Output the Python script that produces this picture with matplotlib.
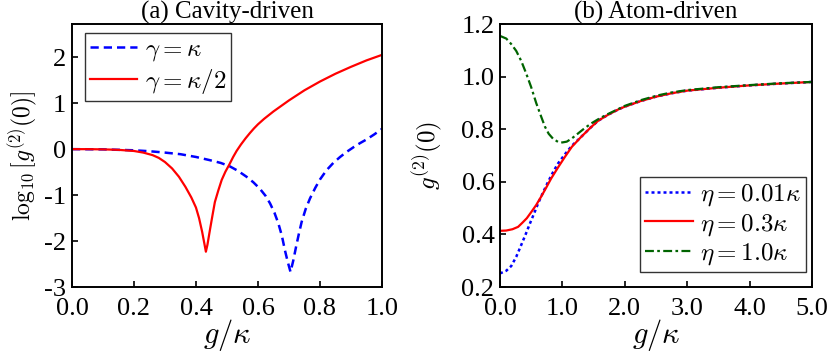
import matplotlib
matplotlib.use('Agg')
from matplotlib import pyplot as plt

plt.rcParams['font.family'] = ['Liberation Serif', 'DejaVu Serif']
plt.rcParams['mathtext.fontset'] = 'cm'
plt.rcParams['axes.unicode_minus'] = False

# (a) cavity-driven, values
g_a1 = [0.0, 0.1, 0.2, 0.25, 0.3, 0.35, 0.4, 0.445, 0.48, 0.508, 0.535, 0.563, 0.585,
        0.606, 0.625, 0.639, 0.653, 0.666, 0.677, 0.687, 0.696, 0.705, 0.714, 0.723,
        0.732, 0.741, 0.754, 0.768, 0.785, 0.8, 0.821, 0.843, 0.865, 0.886, 0.91,
        0.929, 0.95, 0.975, 1.0]
log_a1 = [0.0, -0.005, -0.025, -0.045, -0.075, -0.11, -0.17, -0.24, -0.3, -0.37, -0.47,
          -0.6, -0.72, -0.86, -1.02, -1.18, -1.38, -1.62, -1.88, -2.2, -2.45, -2.67, -2.42,
          -2.12, -1.84, -1.58, -1.3, -1.07, -0.84, -0.66, -0.46, -0.3, -0.17, -0.06, 0.05,
          0.13, 0.21, 0.32, 0.44]
g_a2 = [0.0, 0.05, 0.1, 0.15, 0.2, 0.23, 0.26, 0.28, 0.3, 0.323, 0.345, 0.366, 0.385,
        0.4, 0.41, 0.42, 0.427, 0.432, 0.437, 0.445, 0.453, 0.461, 0.472, 0.483, 0.495,
        0.508, 0.52, 0.531, 0.545, 0.56, 0.574, 0.587, 0.6, 0.62, 0.65, 0.7, 0.75, 0.8,
        0.85, 0.9, 0.95, 1.0]
log_a2 = [0.0, 0.0, -0.005, -0.015, -0.04, -0.075, -0.13, -0.19, -0.28, -0.42, -0.6, -0.82,
          -1.05, -1.27, -1.5, -1.8, -2.05, -2.23, -2.08, -1.76, -1.45, -1.15, -0.9, -0.67,
          -0.49, -0.33, -0.17, -0.04, 0.1, 0.235, 0.35, 0.45, 0.54, 0.66, 0.82, 1.06, 1.28,
          1.47, 1.64, 1.79, 1.93, 2.05]

# (b) atom-driven
g_b1 = [0.0, 0.1, 0.18, 0.26, 0.34, 0.41, 0.48, 0.55, 0.61, 0.69, 0.77, 0.85, 0.93, 1.04,
        1.15, 1.3, 1.45, 1.57, 1.73, 1.9, 2.0, 2.25, 2.5, 2.75, 3.0, 3.5, 4.0, 4.5, 5.0]
g2_b1 = [0.252, 0.262, 0.28, 0.315, 0.36, 0.4, 0.442, 0.482, 0.518, 0.56, 0.6, 0.637, 0.67,
         0.705, 0.737, 0.771, 0.806, 0.832, 0.855, 0.876, 0.886, 0.907, 0.924, 0.937, 0.947,
         0.958, 0.967, 0.974, 0.98]
g_b2 = [0.0, 0.1, 0.2, 0.29, 0.36, 0.43, 0.5, 0.58, 0.66, 0.74, 0.82, 0.93, 1.04, 1.15,
        1.3, 1.45, 1.57, 1.73, 1.9, 2.0, 2.25, 2.5, 2.75, 3.0, 3.5, 4.0, 4.5, 5.0]
g2_b2 = [0.414, 0.415, 0.42, 0.429, 0.445, 0.462, 0.485, 0.512, 0.544, 0.578, 0.613, 0.655,
         0.695, 0.733, 0.771, 0.806, 0.832, 0.855, 0.876, 0.886, 0.907, 0.924, 0.937, 0.947,
         0.958, 0.967, 0.974, 0.98]
g_b3 = [0.0, 0.1, 0.18, 0.26, 0.34, 0.42, 0.5, 0.58, 0.66, 0.72, 0.78, 0.85, 0.93, 1.0,
        1.07, 1.15, 1.25, 1.35, 1.46, 1.6, 1.73, 1.87, 2.0, 2.26, 2.53, 2.75, 3.0, 3.5,
        4.0, 4.5, 5.0]
g2_b3 = [1.155, 1.145, 1.124, 1.098, 1.06, 1.012, 0.96, 0.9, 0.848, 0.81, 0.783, 0.764,
         0.752, 0.75, 0.753, 0.765, 0.784, 0.803, 0.822, 0.842, 0.858, 0.874, 0.889, 0.911,
         0.929, 0.94, 0.949, 0.96, 0.968, 0.975, 0.98]

fig = plt.figure(figsize=(8.3, 3.54), dpi=100)
ax1 = fig.add_axes([0.0867, 0.189, 0.3735, 0.743])
ax2 = fig.add_axes([0.6024, 0.189, 0.376, 0.743])

ax1.plot(g_a1, log_a1, color='#0000ff', lw=1.8, dashes=(3.3, 2.0), label=r'$\gamma=\kappa$')
ax1.plot(g_a2, log_a2, color='#ff0000', lw=1.6, label=r'$\gamma=\kappa/2$')
ax1.set_xlim(0, 1)
ax1.set_ylim(-3, 2.72)
ax1.set_xticks([0, 0.2, 0.4, 0.6, 0.8, 1.0])
ax1.set_xticklabels(['0.0', '0.2', '0.4', '0.6', '0.8', '1.0'])
ax1.set_yticks([-3, -2, -1, 0, 1, 2])
ax1.set_xlabel(r'$g/\kappa$', fontsize=22, labelpad=-2)
ax1.set_ylabel(r'$\log_{10}[g^{(2)}(0)]$', fontsize=17, labelpad=3)
ax1.set_title('(a) Cavity-driven', fontsize=18, pad=1)
ax1.legend(loc='upper left', fontsize=18, frameon=True, fancybox=False, edgecolor='black',
           handlelength=1.9, handletextpad=0.3, borderpad=0.2, labelspacing=0.15,
           borderaxespad=0, bbox_to_anchor=(0.042, 0.966))

ax2.plot(g_b1, g2_b1, color='#0000ff', lw=1.8, dashes=(1.2, 1.2), label=r'$\eta=0.01\kappa$')
ax2.plot(g_b2, g2_b2, color='#ff0000', lw=1.6, label=r'$\eta=0.3\kappa$')
ax2.plot(g_b3, g2_b3, color='#006400', lw=1.6, dashes=(4, 1.5, 1.2, 1.5), label=r'$\eta=1.0\kappa$')
ax2.set_xlim(0, 5)
ax2.set_ylim(0.2, 1.2)
ax2.set_xticks([0, 1, 2, 3, 4, 5])
ax2.set_xticklabels(['0.0', '1.0', '2.0', '3.0', '4.0', '5.0'])
ax2.set_yticks([0.2, 0.4, 0.6, 0.8, 1.0, 1.2])
ax2.set_yticklabels(['0.2', '0.4', '0.6', '0.8', '1.0', '1.2'])
ax2.set_xlabel(r'$g/\kappa$', fontsize=22, labelpad=-2)
ax2.set_ylabel(r'$g^{(2)}(0)$', fontsize=18, labelpad=12)
ax2.set_title('(b) Atom-driven', fontsize=18, pad=1)
ax2.legend(loc='lower right', fontsize=18, frameon=True, fancybox=False, edgecolor='black',
           handlelength=1.9, handletextpad=0.3, borderpad=0.2, labelspacing=0.15,
           borderaxespad=0, bbox_to_anchor=(0.981, 0.057))

for ax in (ax1, ax2):
    for sp in ax.spines.values():
        sp.set_linewidth(1.4)
    ax.tick_params(direction='in', length=4, width=1.2, labelsize=19,
                   top=False, right=False)
    ax.tick_params(axis='x', pad=8)
    ax.tick_params(axis='y', pad=4)
    ax.get_legend().get_frame().set_linewidth(1.0)

fig.savefig('out.png', dpi=100)
